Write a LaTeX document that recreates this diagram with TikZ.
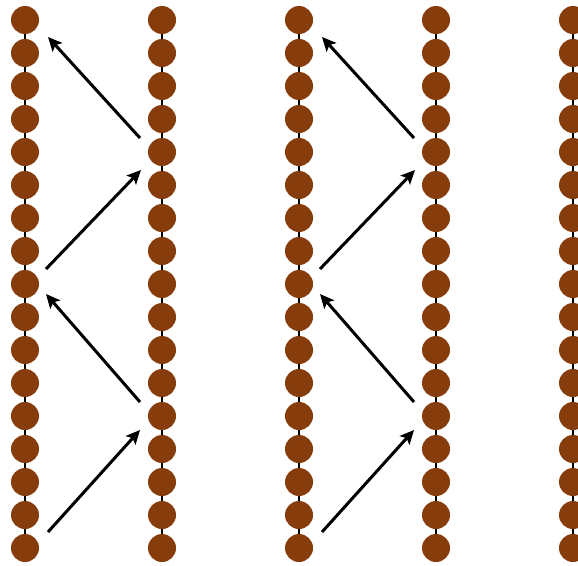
\documentclass[tikz,border=0pt]{standalone}
\usepackage{tikz}
\usetikzlibrary{arrows.meta}
\definecolor{beadbrown}{RGB}{135,60,12}

\begin{document}
\begin{tikzpicture}[x=1pt,y=-1pt,
  bead/.style={circle, fill=beadbrown, inner sep=0pt, minimum size=28pt},
  rod/.style={line width=2.4pt, black},
  jump/.style={-{Stealth[length=14pt,width=13pt,inset=3pt]}, line width=3pt, black}
]
\useasboundingbox (0,0) rectangle (578,565);
% five strands of beads
\foreach \c in {1,...,5} {
  \foreach \r in {1,...,17}
    \node[bead] (c\c-\r) at ({25+137*(\c-1)},{20+33*(\r-1)}) {};
  \foreach \r [evaluate=\r as \n using int(\r+1)] in {1,...,16}
    \draw[rod] (c\c-\r) -- (c\c-\n);
}
% zig-zag jumps between strand pairs
\foreach \s/\p in {0/a,274/b}
  \foreach \xa/\ya/\xb/\yb [count=\i] in {140/138/48/37, 46/269/141/170,
                                           140/402/46/294, 48/532/140/430} {
    \coordinate (\p\i-from) at ({\xa+\s},\ya);
    \coordinate (\p\i-to)   at ({\xb+\s},\yb);
    \draw[jump] (\p\i-from) -- (\p\i-to);
  }
\end{tikzpicture}
\end{document}
